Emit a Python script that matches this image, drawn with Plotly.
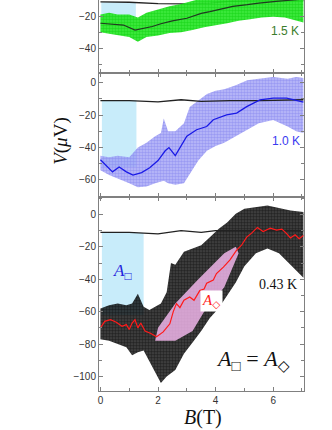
import plotly.graph_objects as go

# ---------------- data ----------------
# Panel 1.5 K (top)
g_B = [0.0, 0.3, 0.6, 1.0, 1.3, 1.6, 2.0, 2.4, 2.8, 3.2, 3.6, 4.0, 4.4, 4.8, 5.2, 5.6, 6.0, 6.4, 6.8, 7.05]
g_up = [-19, -18, -19, -19, -21, -18, -16, -14, -12.5, -10.5, -8, -6, -5, -4, -3, -2, -2, -2, -2, -2]
g_lo = [-30, -31, -32, -33, -36, -33, -32, -30.5, -30, -28.7, -27, -25.6, -24.5, -23, -22, -21, -20.5, -21, -23, -24]
l1_B = [0, 0.4, 0.8, 1.2, 1.5, 1.8, 2.1, 2.5, 3.0, 3.5, 3.8, 4.2, 4.6, 5.1, 5.5, 6.1, 6.7, 7.05]
l1_V = [-24.5, -25, -25.6, -28.7, -27.5, -26.5, -24.8, -23, -21.4, -18.4, -17.3, -15.5, -14, -13, -12, -11, -10, -9.5]
ref1_B = [0, 1, 2, 3, 3.8, 4.5, 5.5, 7.05]
ref1_V = [-11.3, -11.5, -12.3, -12.5, -12, -11, -10.5, -10.5]
rect1 = dict(x0=0.03, x1=1.23, y0=-23.5, y1=-11.5)

# Panel 1.0 K (middle)
p_B = [0, 0.3, 0.6, 1.0, 1.3, 1.6, 1.9, 2.1, 2.2, 2.35, 2.6, 2.9, 3.1, 3.4, 3.7, 4.0, 4.3, 4.7, 5.1, 5.5, 6.0, 6.5, 6.8, 7.05]
p_up = [-45, -46, -45, -46, -40, -37, -33, -31, -22, -30, -30, -25, -15, -11, -7, -5, -4, -1.5, 1.5, 2.5, 3.5, 2.5, 3.5, 3]
p_lo = [-54, -57, -59, -62, -64.5, -64, -62, -61, -60.5, -62, -63, -62, -56, -48, -42, -39, -37, -33, -29, -25, -23, -27, -30, -31]
l2_B = [0, 0.2, 0.42, 0.65, 0.9, 1.13, 1.43, 1.71, 2.0, 2.25, 2.38, 2.6, 2.8, 3.0, 3.34, 3.69, 3.92, 4.38, 4.73, 5.08, 5.54, 6.0, 6.47, 6.93, 7.05]
l2_V = [-47.5, -51, -55, -52, -55, -57, -55.5, -52.5, -48, -42, -40, -45, -39, -33, -29, -27, -22.8, -19.8, -18.7, -14.7, -10.6, -9.5, -9.5, -11.6, -12]
ref2_B = [0, 1, 2, 2.8, 3.5, 4.5, 5.5, 6.5, 7.05]
ref2_V = [-11, -11, -11.8, -10.5, -11.5, -11, -11, -10.5, -10.5]
rect2 = dict(x0=0.05, x1=1.25, y0=-52, y1=-10.8)

# Panel 0.43 K (bottom)
k_B = [0.0, 0.3, 0.6, 0.9, 1.1, 1.3, 1.5, 1.7, 1.9, 2.1, 2.3, 2.45, 2.6, 2.9, 3.2, 3.5, 3.8, 4.1, 4.4, 4.7, 5.0, 5.4, 5.8, 6.2, 6.6, 7.05]
k_up = [-58, -56, -55, -56, -55, -49, -57, -59, -57, -55, -48, -30, -31, -23, -21, -19, -14, -9, -5, 0.5, 3.5, 4.5, 5.5, 4, 2.5, 1.5]
k_lo = [-77, -78, -80, -82, -87, -85, -84, -90, -97, -104, -100, -98, -96, -86, -79, -72, -64, -58, -50, -42, -32, -24, -21, -24, -31, -39]
r_B = [0.0, 0.15, 0.35, 0.55, 0.75, 0.9, 1.0, 1.1, 1.2, 1.3, 1.4, 1.55, 1.75, 1.95, 2.18, 2.41, 2.53, 2.64,
       2.76, 2.9, 3.1, 3.25, 3.45, 3.6, 3.69, 3.92, 4.03, 4.27, 4.5, 4.73, 4.9, 5.08, 5.25, 5.45, 5.65, 5.9,
       6.12, 6.3, 6.45, 6.6, 6.76, 6.9, 7.05]
r_V = [-70, -66, -65, -66.5, -69, -68, -71, -67, -65, -70, -67, -72, -73.5, -75.5, -72.5, -67.5, -60, -55,
       -57.5, -53, -51, -53, -47, -46, -42.5, -40.5, -36.5, -32.5, -28, -22, -19, -14, -11.5, -8, -10.5, -8.5,
       -9.7, -9, -11.5, -14.5, -12.5, -15, -13]
ref3_B = [0, 1, 1.5, 2, 2.8, 3.5, 4.0, 4.5, 5, 6, 7.05]
ref3_V = [-11, -11, -11.5, -12, -10, -11, -10, -10, -10, -10, -10]
rect3 = dict(x0=0.05, x1=1.5, y0=-62, y1=-11.5)
pink_B = [1.9, 2.6, 3.2, 3.6, 4.3, 4.8, 4.7, 4.3, 3.4, 2.6, 2.0]
pink_V = [-78, -78, -72, -60, -45, -24, -20, -24, -40, -55, -70]

x_ticks = [0, 2, 4, 6]

# ---------------- figure ----------------
fig = go.Figure()

def band(xs, up, lo, color, bg, xa, ya, dot=3, sol=0.55):
    fig.add_trace(go.Scatter(
        x=xs + xs[::-1], y=up + lo[::-1], mode="lines", fill="toself",
        line=dict(width=0), fillcolor=bg,
        fillpattern=dict(shape=".", fgcolor=color, bgcolor=bg, size=dot, solidity=sol),
        xaxis=xa, yaxis=ya, hoverinfo="skip", showlegend=False))

def line(xs, ys, color, width, xa, ya):
    fig.add_trace(go.Scatter(x=xs, y=ys, mode="lines", line=dict(color=color, width=width),
                             xaxis=xa, yaxis=ya, showlegend=False, hoverinfo="skip"))

blue_fill = "rgb(200,236,250)"
for r, xr, yr in [(rect1, "x3", "y3"), (rect2, "x2", "y2"), (rect3, "x", "y")]:
    fig.add_shape(type="rect", xref=xr, yref=yr, x0=r["x0"], x1=r["x1"], y0=r["y0"], y1=r["y1"],
                  fillcolor=blue_fill, line=dict(width=0), layer="below")

# top panel
line(ref1_B, ref1_V, "#222222", 1.3, "x3", "y3")
band(g_B, g_up, g_lo, "rgb(0,200,0)", "rgba(50,235,50,0.92)", "x3", "y3")
line(l1_B, l1_V, "#203a20", 1.2, "x3", "y3")

# middle panel
band(p_B, p_up, p_lo, "rgb(120,120,235)", "rgba(160,160,246,0.7)", "x2", "y2")
line(ref2_B, ref2_V, "#222222", 1.3, "x2", "y2")
line(l2_B, l2_V, "#1a1ae6", 1.3, "x2", "y2")

# bottom panel
band(k_B, k_up, k_lo, "black", "rgba(0,0,0,0.72)", "x", "y", dot=3, sol=0.6)
fig.add_trace(go.Scatter(x=pink_B, y=pink_V, mode="lines", fill="toself",
                         fillcolor="rgba(246,185,240,0.82)",
                         line=dict(width=0), xaxis="x", yaxis="y", showlegend=False, hoverinfo="skip"))
line(ref3_B, ref3_V, "#222222", 1.3, "x", "y")
line(r_B, r_V, "#ff1a1a", 1.2, "x", "y")

# ---------------- axes ----------------
axcol = "#808080"
tickfont = dict(family="Liberation Sans, Arial, sans-serif", size=10, color="#333333")
xcommon = dict(range=[-0.05, 7.07], showgrid=False, zeroline=False, showline=True, linecolor=axcol,
               linewidth=1, ticks="inside", ticklen=4, tickcolor=axcol, tickvals=x_ticks,
               minor=dict(ticks="inside", ticklen=3, dtick=1, tickcolor=axcol, showgrid=False),
               tickfont=tickfont)
ycommon = dict(showgrid=False, zeroline=False, showline=True, linecolor=axcol, linewidth=1,
               ticks="inside", ticklen=4, tickcolor=axcol, dtick=20, mirror="allticks",
               minor=dict(ticks="inside", ticklen=3, dtick=10, tickcolor=axcol, showgrid=False),
               tickfont=tickfont)

d1, d2 = 0.4958, 0.8132
fig.update_layout(
    width=332, height=430,
    margin=dict(l=99, r=28, t=0, b=39),
    paper_bgcolor="white", plot_bgcolor="white",
    xaxis=dict(**xcommon, anchor="y", domain=[0, 1], mirror="allticks"),
    yaxis=dict(**ycommon, anchor="x", domain=[0, d1], range=[-109, 10.7]),
    xaxis2=dict(**xcommon, anchor="y2", matches="x", showticklabels=False, mirror="allticks"),
    yaxis2=dict(**ycommon, anchor="x2", domain=[d1, d2], range=[-70.6, 6.0]),
    xaxis3=dict(**xcommon, anchor="y3", matches="x", showticklabels=False, mirror=False),
    yaxis3=dict(**ycommon, anchor="x3", domain=[d2, 1], range=[-55.3, -10.1]),
)

serif = "Liberation Serif, DejaVu Serif, serif"
ann = [
    dict(text="1.5 K", x=6.41, y=-29.3, xref="x3", yref="y3",
         font=dict(family="Liberation Sans, Arial", size=12, color="#3b7d2b")),
    dict(text="1.0 K", x=6.43, y=-36.1, xref="x2", yref="y2",
         font=dict(family="Liberation Sans, Arial", size=12, color="#3a3af0")),
    dict(text="0.43 K", x=6.18, y=-43.1, xref="x", yref="y",
         font=dict(family=serif, size=14, color="#111111")),
    dict(text="<i>A</i><sub>□</sub>", x=0.78, y=-35.5, xref="x", yref="y",
         font=dict(family=serif, size=17, color="#2222dd")),
    dict(text="<i>A</i><sub>◇</sub>", x=3.84, y=-53.6, xref="x", yref="y", bgcolor="white",
         font=dict(family=serif, size=15, color="#ff1a1a")),
    dict(text="<i>A</i><sub>□</sub> = <i>A</i><sub>◇</sub>", x=5.3, y=-90.1, xref="x", yref="y",
         font=dict(family=serif, size=22, color="#111111")),
    dict(text="<i>V</i>(<i>μ</i>V)", x=-0.187, y=0.639, xref="paper", yref="paper", textangle=-90,
         font=dict(family=serif, size=19, color="#111111")),
    dict(text="<i>B</i>(T)", x=0.5066, y=-0.0673, xref="paper", yref="paper",
         font=dict(family=serif, size=20, color="#111111")),
]
for a in ann:
    a.setdefault("showarrow", False)
    a.setdefault("xanchor", "center")
    a.setdefault("yanchor", "middle")
    fig.add_annotation(**a)

fig.write_html("out.html", post_script="document.body.style.margin='0';",
               config={"displayModeBar": False})
